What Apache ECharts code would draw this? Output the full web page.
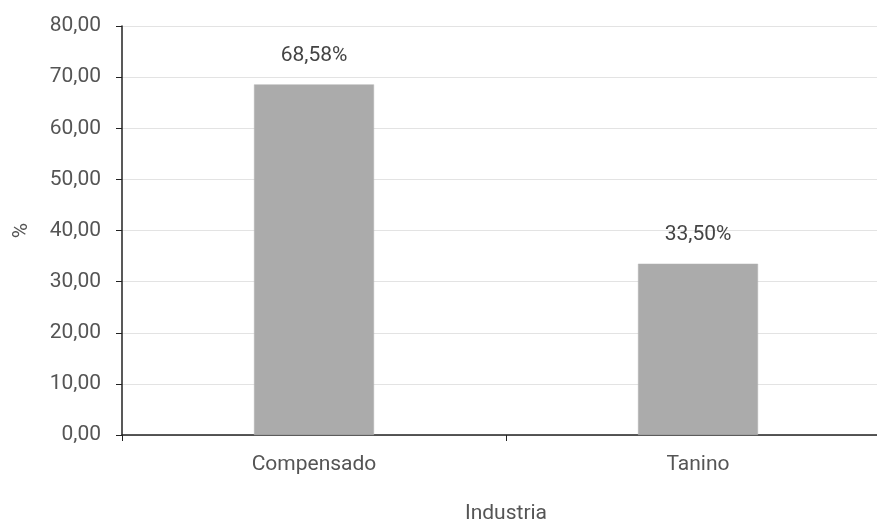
<!DOCTYPE html>
<html><head><meta charset="utf-8">
<script src="https://cdn.jsdelivr.net/npm/echarts@6/dist/echarts.min.js"></script>
<style>html,body{margin:0;padding:0;background:#fff;overflow:hidden}#wrap{width:877px;height:522px;overflow:hidden}#c{width:890px;height:522px}</style>
</head><body><div id="wrap"><div id="c"></div></div>
<script>
var categories = ['Compensado', 'Tanino'];
var values = [68.58, 33.50];
var yMin = 0, yMax = 80, yStep = 10;

var chart = echarts.init(document.getElementById('c'));
var fmt = function (v, d) { return v.toFixed(d).replace('.', ','); };
chart.setOption({
  animation: false,
  textStyle: { fontFamily: 'Roboto' },
  grid: { left: 122, right: 0, top: 26, bottom: 87, containLabel: false, outerBoundsMode: 'none' },
  xAxis: {
    type: 'category', data: categories,
    name: 'Industria', nameLocation: 'middle', nameGap: 68,
    nameTextStyle: { fontSize: 21, color: '#555', fontFamily: 'Roboto' },
    axisLine: { lineStyle: { color: '#222', width: 1.5 } },
    axisTick: { show: true, length: 6, lineStyle: { color: '#222' } },
    axisLabel: { fontSize: 21, color: '#555', margin: 19, fontFamily: 'Roboto' }
  },
  yAxis: {
    type: 'value', min: yMin, max: yMax, interval: yStep,
    name: '%', nameLocation: 'middle', nameGap: 90, nameRotate: 90,
    nameTextStyle: { fontSize: 21, color: '#555', fontFamily: 'Roboto' },
    axisLine: { show: true, lineStyle: { color: '#222', width: 1.5 } },
    axisTick: { show: true, length: 6, lineStyle: { color: '#222' } },
    axisLabel: { fontSize: 21, color: '#555', margin: 21, fontFamily: 'Roboto', formatter: function (v) { return fmt(v, 2); } },
    splitLine: { lineStyle: { color: '#e3e3e3', width: 1 } }
  },
  series: [{
    type: 'bar', data: values, barWidth: 120,
    itemStyle: { color: '#ababab', borderColor: '#b5b5b5', borderWidth: 0.5 },
    label: { show: true, position: 'top', distance: 18, fontSize: 21, color: '#444', fontFamily: 'Roboto',
      formatter: function (p) { return fmt(p.value, 2) + '%'; } }
  }]
});
</script></body></html>
